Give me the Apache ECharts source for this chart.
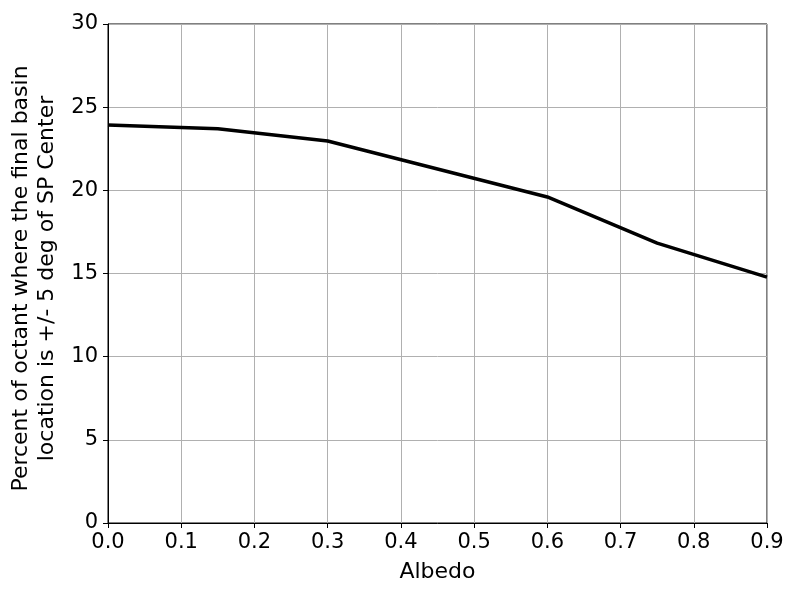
<!DOCTYPE html>
<html>
<head>
<meta charset="utf-8">
<script src="https://cdn.jsdelivr.net/npm/echarts@6/dist/echarts.min.js"></script>
<style>html,body{margin:0;padding:0;background:#fff;}#c{width:800px;height:600px;}</style>
</head>
<body>
<div id="c"></div>
<script>
const albedo = [0.0, 0.15, 0.3, 0.6, 0.75, 0.9];
const percent = [23.93, 23.7, 22.97, 19.6, 16.83, 14.78];
const xTicks = [0.0, 0.1, 0.2, 0.3, 0.4, 0.5, 0.6, 0.7, 0.8, 0.9];
const yTicks = [0, 5, 10, 15, 20, 25, 30];

const chart = echarts.init(document.getElementById('c'), null, {renderer: 'canvas'});
const font = 'DejaVu Sans';
chart.setOption({
  animation: false,
  backgroundColor: '#fff',
  grid: {left: 108, right: 33, top: 24, bottom: 77, show: true, borderColor: '#000', borderWidth: 1, backgroundColor: 'transparent'},
  xAxis: {
    type: 'value', min: 0, max: 0.9, interval: 0.1,
    name: 'Albedo', nameLocation: 'middle', nameGap: 38,
    nameTextStyle: {fontFamily: font, fontSize: 22, color: '#000'},
    axisLine: {show: true, onZero: false, lineStyle: {color: '#000', width: 1}},
    axisTick: {show: true, length: 5, lineStyle: {color: '#000'}},
    axisLabel: {fontFamily: font, fontSize: 21, color: '#000', margin: 9,
      formatter: v => v.toFixed(1)},
    splitLine: {show: true, lineStyle: {color: '#b0b0b0', width: 1}}
  },
  yAxis: {
    type: 'value', min: 0, max: 30, interval: 5,
    name: 'Percent of octant where the final basin\nlocation is +/- 5 deg of SP Center',
    nameLocation: 'middle', nameGap: 43,
    nameTextStyle: {fontFamily: font, fontSize: 22, color: '#000', lineHeight: 26, padding: [0, 10, 0, 0]},
    axisLine: {show: true, lineStyle: {color: '#000', width: 1}},
    axisTick: {show: true, length: 5, lineStyle: {color: '#000'}},
    axisLabel: {fontFamily: font, fontSize: 21, color: '#000', margin: 10},
    splitLine: {show: true, lineStyle: {color: '#b0b0b0', width: 1}}
  },
  series: [{
    type: 'line',
    data: albedo.map((a, i) => [a, percent[i]]),
    showSymbol: false,
    lineStyle: {color: '#000', width: 3.5},
    itemStyle: {color: '#000'}
  }]
});
</script>
</body>
</html>
